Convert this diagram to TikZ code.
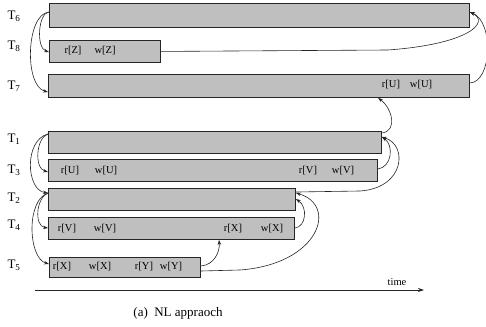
\documentclass[tikz,border=0pt]{standalone}
\usepackage{fontspec}
\setmainfont{Liberation Serif}
\usetikzlibrary{arrows.meta,calc}
\begin{document}
\begin{tikzpicture}[x=1pt,y=-1pt,
  bar/.style={draw=black!85, line width=0.9pt, fill=black!25, rectangle, inner sep=0pt, anchor=north west},
  op/.style={font=\fontsize{10.5}{12}\selectfont, inner sep=0pt},
  tl/.style={font=\fontsize{13}{15}\selectfont, inner sep=0pt},
  conn/.style={draw=black!85, line width=0.6pt, -{Stealth[length=5pt,width=3.5pt]}},
  ln/.style={draw=black!85, line width=0.6pt}]
\useasboundingbox (0,0) rectangle (486,326);
% bars
\node[bar, minimum width=420pt, minimum height=24pt] (t6) at (49,3) {};
\node[bar, minimum width=111pt, minimum height=22pt] (t8) at (49,40) {};
\node[bar, minimum width=421pt, minimum height=23pt] (t7) at (48,74) {};
\node[bar, minimum width=333pt, minimum height=22pt] (t1) at (48,131) {};
\node[bar, minimum width=329pt, minimum height=22pt] (t3) at (48,159) {};
\node[bar, minimum width=247pt, minimum height=22pt] (t2) at (48,188) {};
\node[bar, minimum width=246pt, minimum height=22pt] (t4) at (48,217) {};
\node[bar, minimum width=151pt, minimum height=20pt] (t5) at (49,257) {};
% labels
\node[tl] (l6) at (14,16) {T\textsubscript{6}};
\node[tl] (l8) at (14,46) {T\textsubscript{8}};
\node[tl] (l7) at (14,86) {T\textsubscript{7}};
\node[tl] (l1) at (14,139) {T\textsubscript{1}};
\node[tl] (l3) at (14,170) {T\textsubscript{3}};
\node[tl] (l2) at (14,198) {T\textsubscript{2}};
\node[tl] (l4) at (14,225) {T\textsubscript{4}};
\node[tl] (l5) at (14,265) {T\textsubscript{5}};
% operations
\node[op] (o8a) at (73,51) {r[Z]};
\node[op] (o8b) at (105,51) {w[Z]};
\node[op] (o7a) at (391,85) {r[U]};
\node[op] (o7b) at (421,85) {w[U]};
\node[op] (o3a) at (70,171) {r[U]};
\node[op] (o3b) at (106,171) {w[U]};
\node[op] (o3c) at (308,171) {r[V]};
\node[op] (o3d) at (343,171) {w[V]};
\node[op] (o4a) at (67,229) {r[V]};
\node[op] (o4b) at (105,229) {w[V]};
\node[op] (o4c) at (233,229) {r[X]};
\node[op] (o4d) at (272,229) {w[X]};
\node[op] (o5a) at (62,267) {r[X]};
\node[op] (o5b) at (100,267) {w[X]};
\node[op] (o5c) at (144,267) {r[Y]};
\node[op] (o5d) at (171,267) {w[Y]};
% connector points
\coordinate (t6l) at ([yshift=-9pt]t6.north west);
\coordinate (t8l) at ([yshift=-12pt]t8.north west);
\coordinate (t7l) at ([yshift=-18pt]t7.north west);
\coordinate (t6r) at ([yshift=-9pt]t6.north east);
\coordinate (t7r) at ([yshift=-9pt]t7.north east);
\coordinate (t7b) at ([xshift=330pt]t7.south west);
\coordinate (t1l) at ([yshift=-3pt]t1.north west);
\coordinate (t3l) at ([yshift=-13pt]t3.north west);
\coordinate (t2l) at ([yshift=-5pt]t2.north west);
\coordinate (t4l) at ([yshift=-11pt]t4.north west);
\coordinate (t5l) at ([yshift=-7pt]t5.north west);
\coordinate (t1r) at ([yshift=-6pt]t1.north east);
\coordinate (t1rt) at ([yshift=-2pt]t1.north east);
\coordinate (t3r) at ([yshift=-10pt]t3.north east);
\coordinate (t2rt) at ([yshift=-4pt]t2.north east);
\coordinate (t2ra) at ([yshift=-5pt]t2.north east);
\coordinate (t2rb) at ([yshift=-11pt]t2.north east);
\coordinate (t4r) at ([yshift=-11pt]t4.north east);
\coordinate (t4b) at ([xshift=171pt]t4.south west);
\coordinate (t5ra) at ([yshift=-9pt]t5.north east);
\coordinate (t5rb) at ([yshift=-14pt]t5.north east);
% top group
\draw[conn] (t6l) .. controls (38,13) and (36,48) .. (t8l);
\draw[conn] (t6l) .. controls (26,14) and (24,86) .. (t7l);
\draw[conn] (t8.east) -- (388,50) .. controls (470,44) and (490,22) .. (t6r);
\draw[conn] (t7r) .. controls (492,82) and (494,22) .. (t6r);
% lower left
\draw[conn] (t1l) .. controls (36,138) and (34,168) .. (t3l);
\draw[conn] (t1l) .. controls (24,140) and (26,190) .. (t2l);
\draw[conn] (t2l) .. controls (36,198) and (34,226) .. (t4l);
\draw[conn] (t2l) .. controls (26,200) and (28,258) .. (t5l);
% lower right
\draw[conn] (t3r) .. controls (392,167) and (394,145) .. (t1r);
\draw[conn] (t2rt) -- (360,191) .. controls (405,188) and (408,145) .. (t1r);
\draw[conn] (t1rt) .. controls (398,131) and (392,108) .. (t7b);
\draw[conn] (t4r) .. controls (306,227) and (308,207) .. (t2rb);
\draw[conn] (t5ra) .. controls (214,265) and (220,252) .. (t4b);
\draw[conn] (t5rb) -- (240,270) .. controls (320,264) and (338,205) .. (t2ra);
% time axis
\coordinate (ax0) at (35,290);
\coordinate (ax1) at (424,290);
\draw[draw=black!85, line width=0.8pt, -{Stealth[length=6pt,width=4pt]}] (ax0) -- (ax1);
\node[op] (time) at (397,282) {time};
\node[tl] (cap) at (178,313) {(a)\ \ NL appraoch};
\end{tikzpicture}
\end{document}
